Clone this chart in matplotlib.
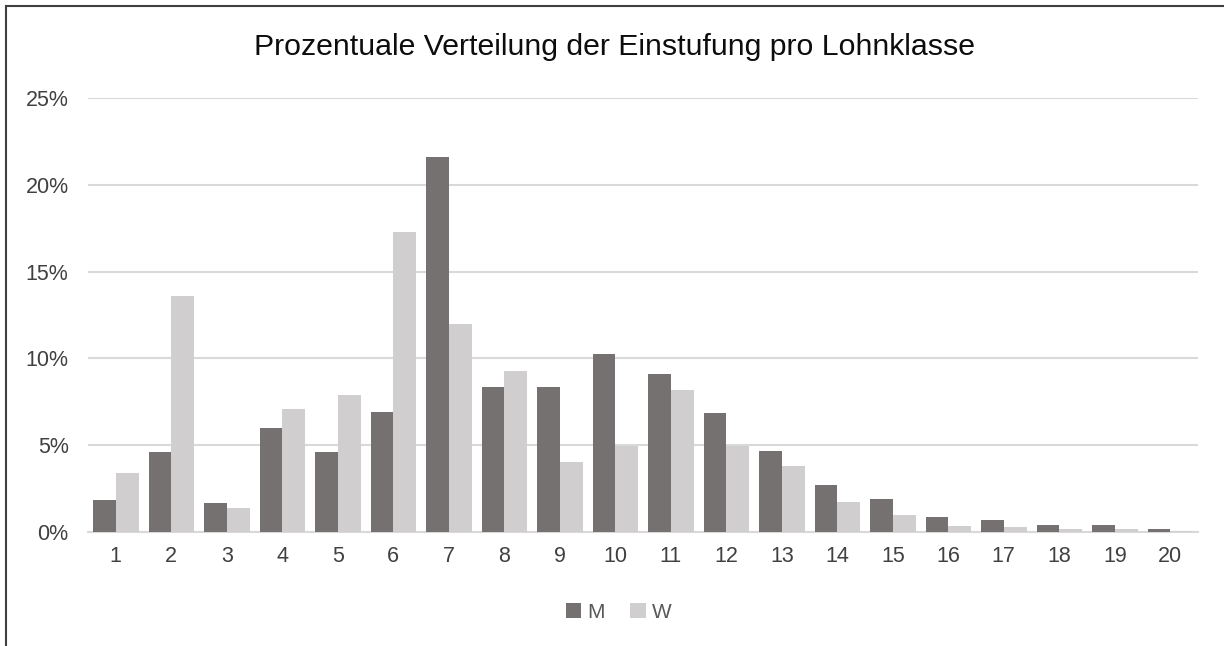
import numpy as np
import matplotlib
matplotlib.use('Agg')
import matplotlib.pyplot as plt
from matplotlib.ticker import PercentFormatter

plt.rcParams['font.family'] = ['Liberation Sans', 'DejaVu Sans']

# data (share per wage class)
klassen = [str(i) for i in range(1, 21)]
maenner = [1.84, 4.6, 1.67, 6.0, 4.6, 6.9, 21.6, 8.35, 8.35, 10.25,
           9.1, 6.86, 4.67, 2.7, 1.9, 0.86, 0.69, 0.4, 0.4, 0.17]
frauen = [3.4, 13.6, 1.4, 7.1, 7.9, 17.3, 12.0, 9.27, 4.03, 4.95,
          8.18, 4.95, 3.8, 1.73, 0.98, 0.35, 0.29, 0.17, 0.17, 0.06]
yticks = [0, 5, 10, 15, 20, 25]

col_m = '#767171'
col_w = '#d0cece'

fig = plt.figure(figsize=(12.24, 6.46), dpi=100)
ax = fig.add_axes([0.0719, 0.1765, 0.9069, 0.6718])

x = np.arange(len(klassen))
w = 0.41
ax.bar(x - w/2, maenner, w, color=col_m, label='M', zorder=3)
ax.bar(x + w/2, frauen, w, color=col_w, label='W', zorder=3)

ax.set_xlim(-0.5, len(klassen) - 0.5)
ax.set_ylim(0, 25)
ax.set_yticks(yticks)
ax.yaxis.set_major_formatter(PercentFormatter(decimals=0))
ax.set_xticks(x)
ax.set_xticklabels(klassen)
ax.grid(axis='y', color='#d9d9d9', linewidth=1.5, zorder=0)
for s in ['top', 'right', 'left']:
    ax.spines[s].set_visible(False)
ax.spines['bottom'].set_color('#d9d9d9')
ax.spines['bottom'].set_linewidth(1.5)
ax.tick_params(axis='both', length=0, labelsize=15.5, colors='#404040', pad=10)
ax.tick_params(axis='y', pad=14)

fig.text(0.502, 0.927, 'Prozentuale Verteilung der Einstufung pro Lohnklasse',
         ha='center', va='center', fontsize=21.8, color='#0d0d0d')

ax.legend(loc='center', bbox_to_anchor=(0.478, -0.185), ncol=2, frameon=False,
          fontsize=15, handlelength=0.75, handleheight=0.75, handletextpad=0.3,
          columnspacing=1.2, labelcolor='#595959')

# outer frame (top and left edges only, as in the reference)
fig.add_artist(plt.Line2D([0.005, 1.0], [0.99, 0.99], color='#404040',
                          linewidth=1.5, transform=fig.transFigure))
fig.add_artist(plt.Line2D([0.005, 0.005], [0.0, 0.99], color='#404040',
                          linewidth=1.5, transform=fig.transFigure))

fig.savefig('out.png', dpi=100)
